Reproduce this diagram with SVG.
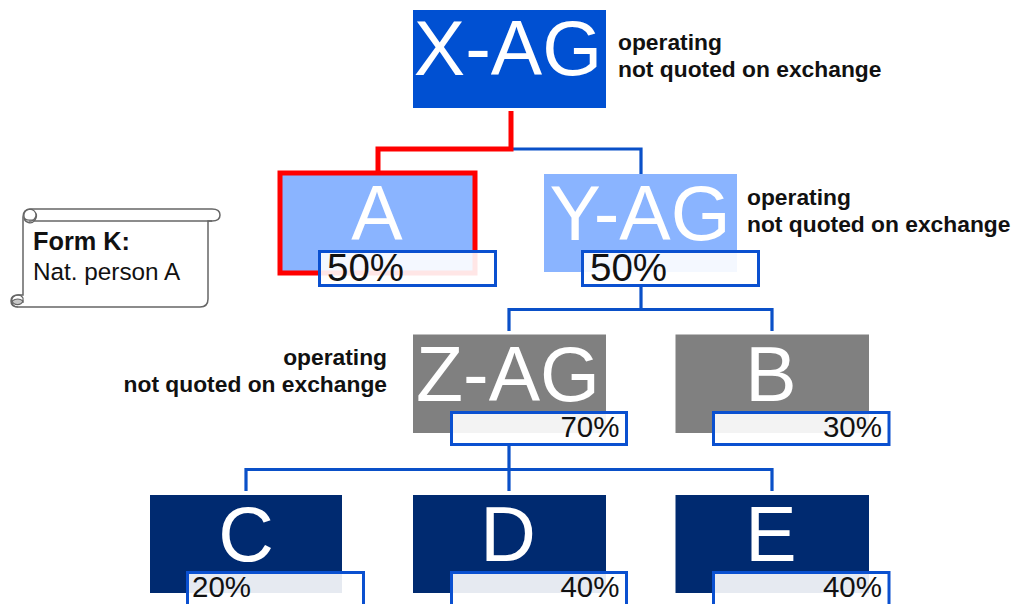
<svg xmlns="http://www.w3.org/2000/svg" width="1013" height="604" viewBox="0 0 1013 604">
<style>
text{font-family:"Liberation Sans",Arial,sans-serif}
.big{fill:#fff;font-size:77px;text-anchor:middle}
.note{fill:#111;font-size:22.800px;font-weight:bold}
.pb{fill:#fff;fill-opacity:.9;stroke:#0a50d0;stroke-width:3}
.pl{fill:#111;font-size:38.500px}
.ps{fill:#111;font-size:29.500px}
.e{text-anchor:end}
.c{fill:none;stroke:#0a50c8;stroke-width:3.200}
.r{fill:none;stroke:#f00;stroke-width:5}
.b1{fill:#0050d2}.b2{fill:#8ab4ff}.b3{fill:#808080}.b4{fill:#002a70}
.s{fill:#fff;stroke:#666;stroke-width:1.500}
.f{fill:#c8c8c8;stroke:#666;stroke-width:1.200}
.k{font-size:24.300px;fill:#111}
</style>
<g id="connectors">
<path class="c" d="M511 149H641V174"/>
<path class="c" d="M641 286V309.500M509 331V309.500H772V331"/>
<path class="c" d="M509 445V491M246 491V469.500H772V491"/>
<path class="r" d="M511 111V149H378V172"/>
</g>
<g id="x-ag"><rect class="b1" x="413" y="10" width="193" height="98"/><text class="big" x="508" y="75">X-AG</text>
<text class="note" x="618" y="50">operating</text><text class="note" x="618" y="77">not quoted on exchange</text></g>
<g id="a"><rect class="b2" x="280" y="173" width="195" height="100" stroke="#f00" stroke-width="5"/><text class="big" x="377" y="240">A</text>
<rect class="pb" x="319.500" y="251.500" width="176" height="34"/><text class="pl" x="327" y="281">50%</text></g>
<g id="y-ag"><rect class="b2" x="544" y="174" width="193" height="98"/><text class="big" x="640" y="240">Y-AG</text>
<rect class="pb" x="582.500" y="251.500" width="176" height="34"/><text class="pl" x="590" y="281">50%</text>
<text class="note" x="747" y="205">operating</text><text class="note" x="747" y="232">not quoted on exchange</text></g>
<g id="form-k">
<path class="s" d="M23 217Q23 209 31 209H212Q220 209 220 215Q220 221 212 221H208V299Q208 307 200 307H18Q11 307 11 301Q11 295 18 295H23Z"/>
<path class="s" d="M29 221H212"/>
<path class="f" d="M24 216A6 6 0 0 0 35 220H29Q24 220 24 216Z"/>
<path fill="none" stroke="#666" stroke-width="1.200" d="M29 221A6 6 0 1 0 24 216M35 212A6 6 0 0 1 35 220"/>
<path class="f" d="M12 301A6 6 0 0 0 23 301Q18 297 12 301Z"/>
<path fill="none" stroke="#666" stroke-width="1.200" d="M18 307A6 6 0 1 1 23 298V303"/>
<text class="k" x="33" y="250" font-size="25.300" style="font-size:25.300px" font-weight="bold">Form K:</text>
<text class="k" x="33" y="280">Nat. person A</text></g>
<g id="z-ag"><rect class="b3" x="413" y="334.500" width="193" height="98.500"/><text class="big" x="508" y="401">Z-AG</text>
<rect class="pb" x="451.500" y="412.500" width="175" height="32"/><text class="ps e" x="619.500" y="437">70%</text>
<text class="note e" x="387" y="365">operating</text><text class="note e" x="387" y="392">not quoted on exchange</text></g>
<g id="b"><rect class="b3" x="675.500" y="334.500" width="193.500" height="98.500"/><text class="big" x="771" y="401">B</text>
<rect class="pb" x="713.500" y="412.500" width="175.500" height="32"/><text class="ps e" x="882" y="437">30%</text></g>
<g id="c"><rect class="b4" x="150" y="495" width="192" height="98"/><text class="big" x="246" y="561">C</text>
<rect class="pb" x="187.500" y="572.500" width="176" height="40"/><text class="ps" x="192" y="597">20%</text></g>
<g id="d"><rect class="b4" x="413" y="495" width="193" height="98"/><text class="big" x="508" y="561">D</text>
<rect class="pb" x="451.500" y="572.500" width="175" height="40"/><text class="ps e" x="619.500" y="597">40%</text></g>
<g id="e"><rect class="b4" x="675.500" y="495" width="193.500" height="98"/><text class="big" x="771" y="561">E</text>
<rect class="pb" x="713.500" y="572.500" width="175.500" height="40"/><text class="ps e" x="882" y="597">40%</text></g>
</svg>
